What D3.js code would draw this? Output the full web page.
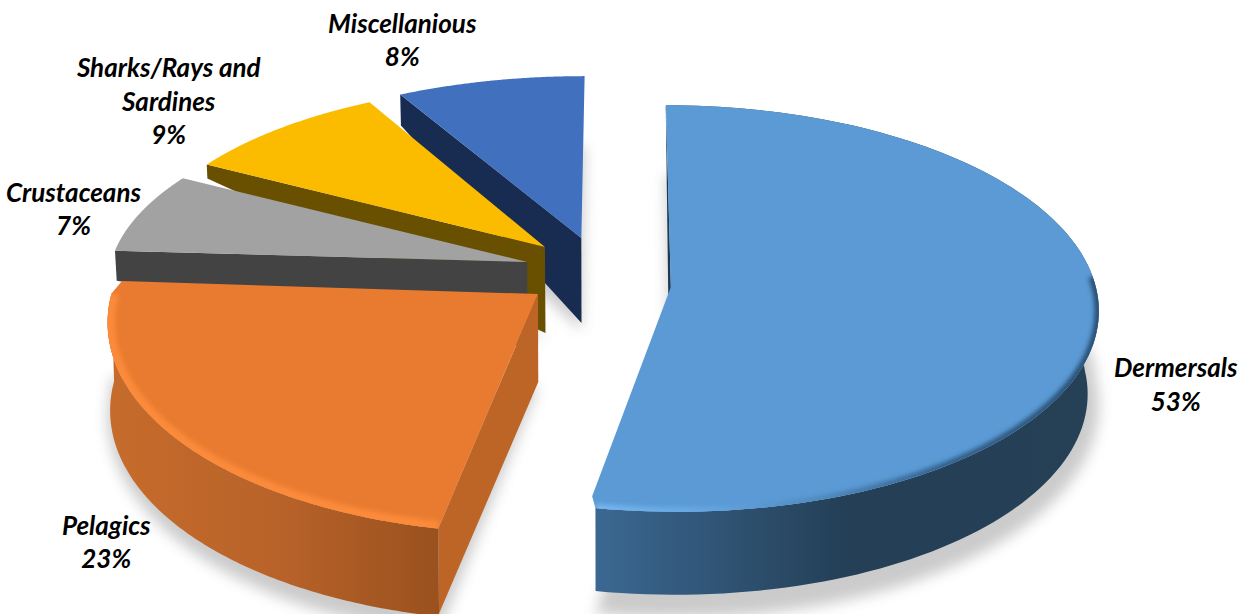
<!DOCTYPE html>
<html>
<head>
<meta charset="utf-8">
<script src="https://cdnjs.cloudflare.com/ajax/libs/d3/7.8.5/d3.min.js"></script>
<style>
html,body{margin:0;padding:0;background:#fff;}
svg{display:block;}
text{font-family:Lato,"Open Sans",sans-serif;font-weight:700;font-style:italic;font-size:26px;fill:#000;text-anchor:middle;}
</style>
</head>
<body>
<svg id="chart" width="1250" height="614"></svg>
<script>
// ---- data ----
const categories = ["Dermersals", "Pelagics", "Crustaceans", "Sharks/Rays and Sardines", "Miscellanious"];
const shares = [53, 23, 7, 9, 8];
const labelLines = [["Dermersals"], ["Pelagics"], ["Crustaceans"], ["Sharks/Rays and", "Sardines"], ["Miscellanious"]];

// ---- styles and layout ----
const topColors  = ["#5b9ad5", "#e97b30", "#a2a2a2", "#fbbc00", "#4170bf"];
const sideColors = ["#1c3a54", "#bd6526", "#434343", "#695000", "#182c52"];
const explodeX   = [0.122, -0.190, -0.219, -0.178, -0.091];
const explodeY   = [0, -0.035, 0.126, 0.203, 0.250];
const radiusX    = [1, 1, 0.992, 0.98, 1];
const radiusY    = [1, 1.05, 0.93, 0.93, 0.93];
const depthApex  = [83, 88, 85, 86, 85];
const depthRim   = [5, 85, 30, 14, 31];
const leanAmount = [0.023, 0.005, 0.01, 0.01, 0.01];
const startEps   = [0, 0, 0, 0, 0];
const endEps     = [0.016, 0.06, 0, 0, 0];
const startCut   = [1, 0.955, 1, 1, 1];
const endCut     = [0.955, 0.985, 1, 1, 1];
const labelNudge = [[77, 71], [-64, 101], [-67, -11], [-111, -51], [-88, -48]];
const drawOrder  = [4, 3, 2, 0, 1];
const lineGap = 33.4;

const width = 1250, height = 614;
const k = 0.1057, leanCenter = 600;
const sx = d3.scaleLinear().domain([0, 1]).range([619, 619 + 425]);
const sy = d3.scaleLinear().domain([0, 1]).range([287, 287 - 201]);

const arcs = d3.pie().sort(null).startAngle(0).endAngle(2 * Math.PI)(shares);

function project(i, theta, r) {
  const X = explodeX[i] + r * radiusX[i] * Math.sin(theta);
  const Y = explodeY[i] + r * radiusY[i] * Math.cos(theta);
  const w = 1 + k * Y;
  return [sx(X / w), sy(Y / w)];
}
function drop(i, p, d) {
  return [leanCenter + (p[0] - leanCenter) * (1 - leanAmount[i] * d / 85), p[1] + d];
}
function rimDepth(i, theta) {
  const c = Math.max(0, Math.cos(theta));
  return depthApex[i] - (depthApex[i] - depthRim[i]) * (i < 2 ? c : 1);
}
const line = d3.line();
function rimRange(i, n) {
  const a = arcs[i];
  const t0 = a.startAngle + startEps[i], t1 = a.endAngle - endEps[i];
  return d3.range(n + 1).map(j => t0 + (t1 - t0) * j / n);
}
function topOutline(i) {
  const a = arcs[i];
  const pts = [project(i, 0, 0)];
  if (startCut[i] < 1) pts.push(project(i, a.startAngle, startCut[i]));
  rimRange(i, 120).forEach(t => pts.push(project(i, t, 1)));
  if (endCut[i] < 1) pts.push(project(i, a.endAngle, endCut[i]));
  return line(pts) + "Z";
}

const svg = d3.select("#chart");
const defs = svg.append("defs");
const blur = (id, s) => defs.append("filter").attr("id", id)
  .attr("x", "-20%").attr("y", "-20%").attr("width", "140%").attr("height", "140%")
  .append("feGaussianBlur").attr("stdDeviation", s);
blur("soft", 7);
blur("edge", 2);

function hGrad(id, x1, x2, stops) {
  const g = defs.append("linearGradient").attr("id", id)
    .attr("gradientUnits", "userSpaceOnUse")
    .attr("x1", x1).attr("x2", x2).attr("y1", 0).attr("y2", 0);
  stops.forEach(s => g.append("stop").attr("offset", s[0]).attr("stop-color", s[1]));
}
hGrad("wall0", 595, 1100, [[0, "#3b6892"], [0.5, "#243f56"], [1, "#264056"]]);
hGrad("wall1", 107, 440, [[0, "#c66c2b"], [0.5, "#b9632a"], [1, "#9a511d"]]);
hGrad("band0", 595, 1100, [[0, "#74b6ef"], [0.2, "#66a8e4"], [0.45, "#4f88bd"], [0.7, "#33608a"], [1, "#2a5076"]]);
hGrad("band1", 107, 440, [[0, "#fb8a3a"], [1, "#fb8a3a"]]);

arcs.forEach((a, i) => defs.append("clipPath").attr("id", "top" + i)
  .append("path").attr("d", topOutline(i)));

// soft shadows beneath every slice
const shadows = svg.append("g").attr("filter", "url(#soft)").attr("opacity", 0.3);
drawOrder.forEach(i => {
  const pts = [drop(i, project(i, 0, 0), 92)];
  rimRange(i, 80).forEach(t => {
    const p = project(i, t, 1), c = Math.cos(t);
    pts.push([p[0], p[1] + 84 - 14 * c + (c < 0 ? 8 : 0)]);
  });
  shadows.append("path").attr("d", line(pts) + "Z").attr("fill", "#555");
});

// slices, back to front
const slices = svg.append("g");
drawOrder.forEach(i => {
  const a = arcs[i], g = slices.append("g");
  const apex = project(i, 0, 0);
  const rimStart = project(i, a.startAngle, 1);

  // cut face
  g.append("path")
    .attr("d", line([apex, rimStart, drop(i, rimStart, depthRim[i]), drop(i, apex, depthApex[i])]) + "Z")
    .attr("fill", sideColors[i]);

  // curved outer wall for the two front slices
  if (i < 2) {
    const ts = rimRange(i, 120);
    const upper = ts.map(t => project(i, t, 1));
    const lower = ts.map(t => drop(i, project(i, t, 1), rimDepth(i, t))).reverse();
    g.append("path").attr("d", line(upper.concat(lower)) + "Z").attr("fill", `url(#wall${i})`);
  }

  // top surface
  g.append("path").attr("d", topOutline(i)).attr("fill", topColors[i]);

  // bevelled rim highlight
  if (i < 2) {
    const ts = rimRange(i, 120).filter(t => i === 1 || t > 1.5);
    g.append("g").attr("clip-path", `url(#top${i})`)
      .append("path")
      .attr("d", line(ts.map(t => project(i, t, 1))))
      .attr("fill", "none")
      .attr("stroke", `url(#band${i})`)
      .attr("stroke-width", i === 0 ? 9 : 15)
      .attr("filter", "url(#edge)");
  }
});

// labels
const labels = svg.append("g");
arcs.forEach((a, i) => {
  const mid = (a.startAngle + a.endAngle) / 2;
  const p = project(i, mid, 1);
  const x = p[0] + labelNudge[i][0], y = p[1] + labelNudge[i][1];
  const lines = labelLines[i].concat([d3.format(".0f")(shares[i]) + "%"]);
  const t = labels.append("text").attr("x", x).attr("y", y);
  lines.forEach((s, j) => t.append("tspan").attr("x", x).attr("dy", j ? lineGap : 0).text(s));
});
</script>
</body>
</html>
